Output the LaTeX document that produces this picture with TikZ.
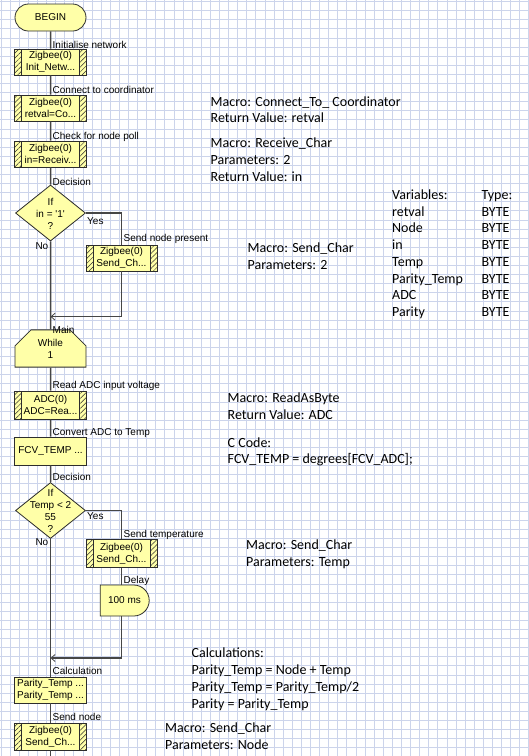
\documentclass[tikz,border=0pt]{standalone}
\usepackage{fontspec}
\setmainfont{Liberation Sans}
\newfontfamily\notefont{Carlito}
\usetikzlibrary{shapes.geometric,shapes.misc,patterns.meta,arrows.meta}

\definecolor{iconfill}{RGB}{255,255,168}
\definecolor{iconline}{RGB}{45,45,45}
\definecolor{flowline}{RGB}{70,70,70}
\definecolor{gridblue}{RGB}{204,212,235}

\tikzset{
  gridline/.style={draw=gridblue,line width=0.8pt},
  flow/.style={draw=flowline,line width=1.5pt},
  back/.style={flow,-{Straight Barb[length=4pt,width=7pt,line width=0.8pt]}},
  icon/.style={draw=iconline,line width=0.8pt,fill=iconfill,inner sep=0pt,
    font=\fontsize{10}{12}\selectfont,align=center},
  calcbox/.style={icon,rectangle,minimum width=72pt,minimum height=26pt},
  macrobox/.style={calcbox,path picture={
    \fill[pattern={Lines[angle=45,distance=3.5pt,line width=0.5pt]},pattern color=iconline]
      (path picture bounding box.north west) rectangle ([xshift=7pt]path picture bounding box.south west)
      (path picture bounding box.north east) rectangle ([xshift=-7pt]path picture bounding box.south east);
    \draw[iconline,line width=0.8pt]
      ([xshift=7pt]path picture bounding box.north west) -- ([xshift=7pt]path picture bounding box.south west)
      ([xshift=-7pt]path picture bounding box.north east) -- ([xshift=-7pt]path picture bounding box.south east);
  }},
  terminal/.style={icon,rounded rectangle,minimum width=71pt,minimum height=27pt},
  decision/.style={icon,diamond,minimum width=70pt,minimum height=56pt},
  loopbox/.style={icon,chamfered rectangle,chamfered rectangle corners={north west,north east},
    chamfered rectangle xsep=7pt,chamfered rectangle ysep=9pt,minimum width=71pt,minimum height=27pt},
  delaybox/.style={icon,rounded rectangle,rounded rectangle left arc=none,
    minimum width=49pt,minimum height=31pt},
  flowtext/.style={inner sep=0pt,font=\fontsize{10}{12}\selectfont},
  tag/.style={flowtext,anchor=base west},
  note/.style={inner sep=0pt,anchor=base west,font=\notefont\fontsize{14}{17}\selectfont},
}

\newcommand\notelines[4]{%
  \foreach \txt [count=\k from 0] in {#4}
    \node[note] (#1\k) at (#2,#3+16.75*\k) {\txt};}

\begin{document}
\begin{tikzpicture}[x=1pt,y=-1pt]
  \useasboundingbox (0,0) rectangle (529,756);
  \fill[white] (0,0) rectangle (529,756);
  % squared paper
  \foreach \gx in {0,...,58}
    \draw[gridline] (\gx*9.1+1,0) -- (\gx*9.1+1,756);
  \foreach \gy in {0,...,83}
    \draw[gridline] (0,\gy*9.1+1.5) -- (529,\gy*9.1+1.5);

  % flowchart icons
  \node[terminal] (begin) at (50.5,17.5) {BEGIN};
  \node[macrobox] (m1) at (50.5,62) {Zigbee(0)\\Init\_Netw...};
  \node[macrobox] (m2) at (50.5,108) {Zigbee(0)\\retval=Co...};
  \node[macrobox] (m3) at (50.5,154) {Zigbee(0)\\in=Receiv...};
  \node[decision] (d1) at (50.5,213) {};
  \node[flowtext,align=center] (d1text) at (50.5,214) {If\\in = \textquotesingle1\textquotesingle\\?};
  \node[macrobox,minimum width=71pt] (m4) at (121.5,258) {Zigbee(0)\\Send\_Ch...};
  \coordinate (j1) at (50.5,316.7);
  \node[loopbox] (loop) at (50.5,348.5) {While\\1};
  \node[macrobox,minimum height=28pt] (m5) at (50.5,405) {ADC(0)\\ADC=Rea...};
  \node[calcbox,minimum height=28pt] (c1) at (50.5,451) {FCV\_TEMP ...};
  \node[decision] (d2) at (50.5,510.5) {};
  \node[flowtext,align=center] (d2text) at (d2) {If\\Temp < 2\\55\\?};
  \node[macrobox,minimum width=71pt,minimum height=28pt] (m6) at (121.5,553.5) {Zigbee(0)\\Send\_Ch...};
  \node[delaybox] (dl) at (124.5,600.5) {100 ms};
  \coordinate (j2) at (50.5,658);
  \node[calcbox] (c2) at (50.5,690) {Parity\_Temp ...\\Parity\_Temp ...};
  \node[macrobox,minimum height=27pt] (m7) at (50.5,736.5) {Zigbee(0)\\Send\_Ch...};
  \coordinate (bottom) at (50.5,756);

  % connectors
  \draw[flow] (begin) -- (m1) -- (m2) -- (m3) -- (d1);
  \draw[flow] (d1) -- (loop) -- (m5) -- (c1) -- (d2);
  \draw[flow] (d2) -- (c2) -- (m7) -- (bottom);
  \draw[flow] (d1.east) -| (m4.north);
  \draw[back] (m4.south) |- (j1);
  \draw[flow] (d2.east) -| (m6.north);
  \draw[flow] (m6.south) -- (m6.south |- dl.north);
  \draw[back] (m6.south |- dl.south) |- (j2);

  % icon captions
  \node[tag] (t1) at (52.5,48) {Initialise network};
  \node[tag] (t2) at (52.5,93.6) {Connect to coordinator};
  \node[tag] (t3) at (52.5,139.3) {Check for node poll};
  \node[tag] (t4) at (52.5,185.3) {Decision};
  \node[tag] (yes1) at (87,224.6) {Yes};
  \node[flowtext,anchor=base east] (no1) at (48.5,249.6) {No};
  \node[tag] (t5) at (123.5,241.6) {Send node present};
  \node[tag] (t6) at (52.5,333.6) {Main};
  \node[tag] (t7) at (52.5,388.6) {Read ADC input voltage};
  \node[tag] (t8) at (52.5,435.6) {Convert ADC to Temp};
  \node[tag] (t9) at (52.5,480.3) {Decision};
  \node[tag] (yes2) at (87,519.6) {Yes};
  \node[flowtext,anchor=base east] (no2) at (48.5,545.6) {No};
  \node[tag] (t10) at (123.5,537.6) {Send temperature};
  \node[tag] (t11) at (123.5,583.6) {Delay};
  \node[tag] (t12) at (52.5,674.6) {Calculation};
  \node[tag] (t13) at (52.5,720.6) {Send node};

  % notes
  \notelines{conn}{210.5}{106.2}{Macro: Connect\_To\_ Coordinator, Return Value: retval}
  \notelines{recv}{210.5}{147.8}{Macro: Receive\_Char, Parameters: 2, Return Value: in}
  \notelines{send}{247.5}{252.8}{Macro: Send\_Char, Parameters: 2}
  \foreach \vname/\vtype [count=\k from 0] in {Variables:/Type:, retval/BYTE, Node/BYTE,
      in/BYTE, Temp/BYTE, Parity\_Temp/BYTE, ADC/BYTE, Parity/BYTE} {
    \node[note] (var\k) at (392,199.3+16.75*\k) {\vname};
    \node[note] (type\k) at (481.5,199.3+16.75*\k) {\vtype};
  }
  \notelines{read}{227.5}{402.8}{Macro: ReadAsByte, Return Value: ADC}
  \notelines{code}{227.5}{447.2}{C Code:, FCV\_TEMP = degrees[FCV\_ADC];}
  \notelines{temp}{246}{549.5}{Macro: Send\_Char, Parameters: Temp}
  \notelines{calc}{191.5}{657.8}{Calculations:, Parity\_Temp = Node + Temp,
    Parity\_Temp = Parity\_Temp/2, Parity = Parity\_Temp}
  \notelines{node}{165}{732.8}{Macro: Send\_Char, Parameters: Node}
\end{tikzpicture}
\end{document}
